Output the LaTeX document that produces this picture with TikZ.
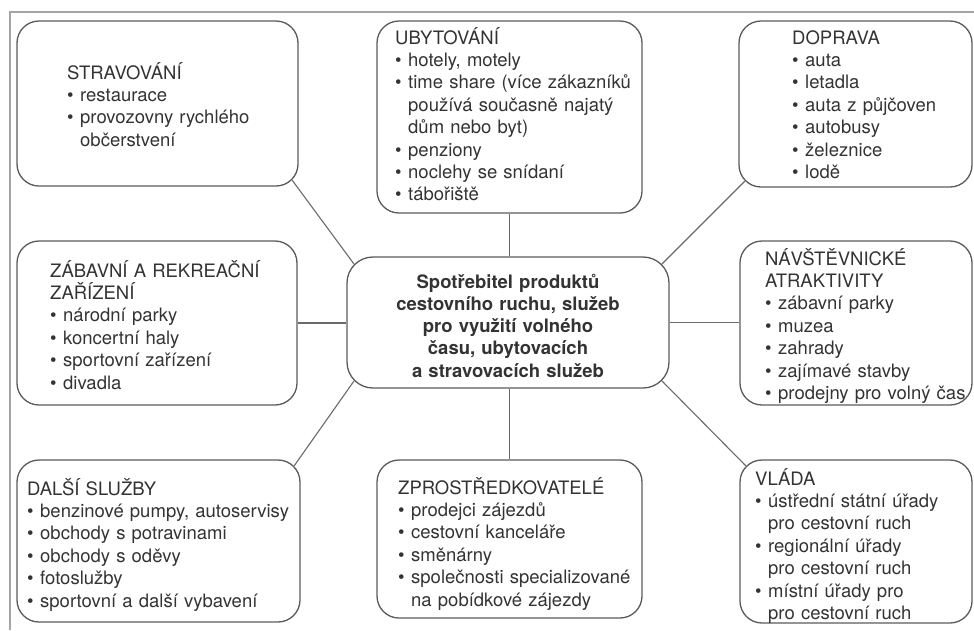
\documentclass[tikz,border=0pt]{standalone}
\usepackage{fontspec}
\setmainfont{TeX Gyre Heros}
\usetikzlibrary{calc}
\definecolor{boxline}{HTML}{5a5a5a}
\definecolor{linkgray}{HTML}{6a6a6a}
\definecolor{inkgray}{HTML}{333333}
\definecolor{framegray}{HTML}{a4a4a4}
\newcommand{\itm}{\makebox[13pt][l]{•}}
\newcommand{\ind}{\hspace*{13pt}}
\tikzset{
  box/.style={draw=boxline, line width=1.3pt, rounded corners=22pt, inner sep=0pt},
  link/.style={draw=linkgray, line width=1.1pt},
  frame/.style={draw=framegray, line width=2.2pt},
  txt/.style={anchor=base west, inner sep=0pt, text width=300pt, align=left, text=inkgray,
    font=\fontsize{18.5}{22.4}\selectfont},
  midtxt/.style={anchor=base, inner sep=0pt, text width=320pt, align=center, text=inkgray,
    font=\bfseries\fontsize{18.5}{22.3}\selectfont}
}

\begin{document}
\begin{tikzpicture}[x=1pt, y=-1pt]
\useasboundingbox (0,0) rectangle (974,630);
\draw[frame] (10,630) -- (10,12) -- (974,12);
% boxes
\node[box, minimum width=281, minimum height=165] (strav) at (157.5,103.5) {};
\node[box, minimum width=265, minimum height=192] (ubyt) at (509.5,117) {};
\node[box, minimum width=233, minimum height=166] (dopr) at (855.5,104) {};
\node[box, minimum width=280, minimum height=164] (zabav) at (157,323) {};
\node[box, rounded corners=26pt, minimum width=322, minimum height=131] (centre) at (508,322.5) {};
\node[box, minimum width=232, minimum height=164] (navst) at (856,323) {};
\node[box, minimum width=283, minimum height=162] (dalsi) at (158.5,541) {};
\node[box, minimum width=265, minimum height=158] (zprost) at (509.5,539) {};
\node[box, minimum width=232, minimum height=163] (vlada) at (856,541.5) {};
% texts
\node[txt] (stravtxt) at (67,79) {STRAVOVÁNÍ\\ \itm restaurace\\ \itm provozovny rychlého\\ \ind občerstvení};
\node[txt] (ubyttxt) at (395,44) {UBYTOVÁNÍ\\ \itm hotely, motely\\ \itm time share (více zákazníků\\ \ind používá současně najatý\\ \ind dům nebo byt)\\ \itm penziony\\ \itm noclehy se snídaní\\ \itm tábořiště};
\node[txt] (doprtxt) at (792,44) {DOPRAVA\\ \itm auta\\ \itm letadla\\ \itm auta z půjčoven\\ \itm autobusy\\ \itm železnice\\ \itm lodě};
\node[txt] (zabavtxt) at (50,277) {ZÁBAVNÍ A REKREAČNÍ\\ ZAŘÍZENÍ\\ \itm národní parky\\ \itm koncertní haly\\ \itm sportovní zařízení\\ \itm divadla};
\node[midtxt] (centretxt) at (508,288) {Spotřebitel produktů\\ cestovního ruchu, služeb\\ pro využití volného\\ času, ubytovacích\\ a stravovacích služeb};
\node[txt] (navsttxt) at (765,265) {NÁVŠTĚVNICKÉ\\ ATRAKTIVITY\\ \itm zábavní parky\\ \itm muzea\\ \itm zahrady\\ \itm zajímavé stavby\\ \itm prodejny pro volný čas};
\node[txt] (dalsitxt) at (27,495) {DALŠÍ SLUŽBY\\ \itm benzinové pumpy, autoservisy\\ \itm obchody s potravinami\\ \itm obchody s oděvy\\ \itm fotoslužby\\ \itm sportovní a další vybavení};
\node[txt] (zprosttxt) at (398,494) {ZPROSTŘEDKOVATELÉ\\ \itm prodejci zájezdů\\ \itm cestovní kanceláře\\ \itm směnárny\\ \itm společnosti specializované\\ \ind na pobídkové zájezdy};
\node[txt] (vladatxt) at (755,485) {VLÁDA\\ \itm ústřední státní úřady\\ \ind pro cestovní ruch\\ \itm regionální úřady\\ \ind pro cestovní ruch\\ \itm místní úřady pro\\ \ind pro cestovní ruch};
% connectors
\draw[link] (ubyt.south) -- (ubyt.south |- centre.north);
\draw[link] (centre.south -| zprost.north) -- (zprost.north);
\draw[link] (zabav.east) -- (zabav.east -| centre.west);
\draw[link] (centre.east) -- (centre.east -| navst.west);
\draw[link] ($(strav.south east)+(-6.5,-6.5)$) -- ($(centre.north west)+(7.6,7.6)$);
\draw[link] ($(dopr.south west)+(6.5,-6.5)$) -- ($(centre.north east)+(-7.6,7.6)$);
\draw[link] ($(dalsi.north east)+(-6.5,6.5)$) -- ($(centre.south west)+(7.6,-7.6)$);
\draw[link] ($(vlada.north west)+(6.5,6.5)$) -- ($(centre.south east)+(-7.6,-7.6)$);
\end{tikzpicture}
\end{document}
